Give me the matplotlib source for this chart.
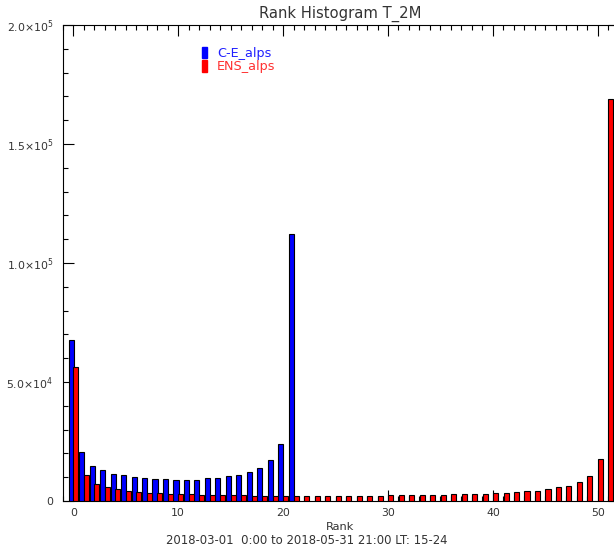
import numpy as np
import matplotlib
matplotlib.use("Agg")
import matplotlib.pyplot as plt
from matplotlib.ticker import MultipleLocator

plt.rcParams['font.family'] = ['DejaVu Sans']
plt.rcParams['mathtext.default'] = 'regular'

# ============================
#   DADOS
# ============================

ranks_ce = np.arange(0, 22)
ce_alps = [67.5, 20.5, 14.9, 13.1, 11.4, 10.9, 10.0, 9.5, 9.3, 9.2, 8.8,
           8.8, 8.8, 9.5, 9.5, 10.3, 11.1, 12.2, 13.8, 17.2, 24.0, 112.3]

ranks_ens = np.arange(0, 52)
ens_alps = [56.1, 10.9, 7.2, 5.8, 5.1, 4.1, 3.7, 3.2, 3.2, 2.9, 2.9,
            2.9, 2.6, 2.6, 2.6, 2.6, 2.6, 2.3, 2.3, 2.3, 2.3, 2.3,
            2.2, 2.2, 2.2, 2.2, 2.2, 2.2, 2.2, 2.2, 2.5, 2.5, 2.5,
            2.5, 2.5, 2.5, 2.9, 2.9, 2.9, 3.0, 3.4, 3.5, 3.7, 4.1,
            4.1, 4.9, 5.7, 6.5, 7.9, 10.3, 17.5, 168.8]

ce_alps = np.array(ce_alps) * 1000
ens_alps = np.array(ens_alps) * 1000

y_ticks = [0, 50000, 100000, 150000, 200000]
y_tick_labels = ['0', r'$5.0{\times}10^{4}$', r'$1.0{\times}10^{5}$',
                 r'$1.5{\times}10^{5}$', r'$2.0{\times}10^{5}$']
x_ticks = [0, 10, 20, 30, 40, 50]

titulo = "Rank Histogram T_2M"
periodo = "2018-03-01  0:00 to 2018-05-31 21:00 LT: 15-24"

# ============================
#   GRÁFICO
# ============================

W, H = 614, 548
fig = plt.figure(figsize=(W / 100, H / 100), dpi=100)
ax = fig.add_axes([62.8 / W, 47 / H, 556 / W, 476 / H])

ax.bar(ranks_ce - 0.21, ce_alps, width=0.48, color='#0000ff',
       edgecolor='black', linewidth=0.8, zorder=3)
ax.bar(ranks_ens + 0.25, ens_alps, width=0.48, color='#ff0000',
       edgecolor='black', linewidth=0.8, zorder=3)

ax.set_xlim(-1, 52)
ax.set_ylim(0, 200000)
ax.set_xticks(x_ticks)
ax.xaxis.set_minor_locator(MultipleLocator(1))
ax.set_yticks(y_ticks)
ax.set_yticklabels(y_tick_labels)
ax.yaxis.set_minor_locator(MultipleLocator(10000))

txt = '#333333'
ax.tick_params(which='both', direction='in', top=True, right=True,
               width=0.8, colors='black', labelcolor=txt, labelsize=7.8)
ax.tick_params(which='major', length=8)
ax.tick_params(which='minor', length=3.6)
ax.tick_params(axis='x', pad=5)
ax.tick_params(axis='y', pad=7)
for s in ax.spines.values():
    s.set_linewidth(0.8)

fig.text(340.5 / W, 1 - 14 / H, titulo, ha='center', va='center',
         fontsize=10.6, color=txt)
fig.text(340.5 / W, 1 - 527 / H, "Rank", ha='center', va='center',
         fontsize=8.2, color=txt)
fig.text(166 / W, 1 - 540 / H, periodo, ha='left', va='center',
         fontsize=8.4, color=txt)

# legenda manual
ax.add_patch(plt.Rectangle((201.7 / W, 1 - 58.3 / H), 5 / W, 11.6 / H,
                           transform=fig.transFigure, color='#0000ff',
                           clip_on=False))
ax.add_patch(plt.Rectangle((201.7 / W, 1 - 72.3 / H), 5 / W, 12 / H,
                           transform=fig.transFigure, color='#ff0000',
                           clip_on=False))
fig.text(217 / W, 1 - 53 / H, "C-E_alps", ha='left', va='center',
         fontsize=9.2, color='#2020ff')
fig.text(217 / W, 1 - 66.5 / H, "ENS_alps", ha='left', va='center',
         fontsize=9.2, color='#ff3030')

plt.savefig("out.png", dpi=100)
